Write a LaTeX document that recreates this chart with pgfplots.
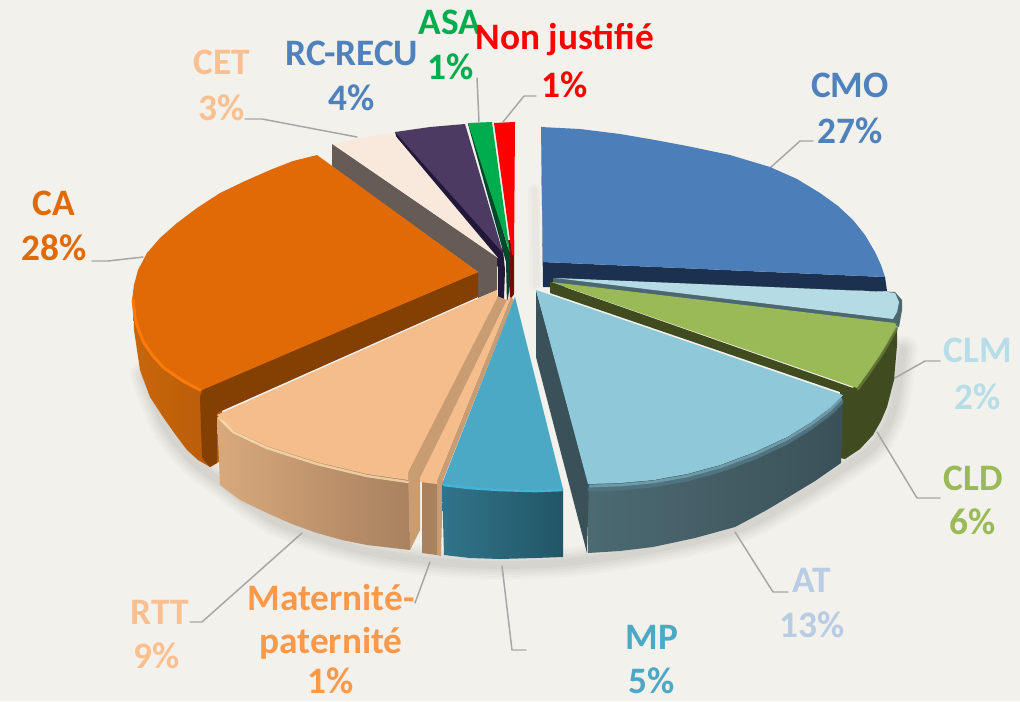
\documentclass[border=0pt]{standalone}
\usepackage{pgfplots}
\pgfplotsset{compat=1.18}
\usepackage{fontspec}
\setmainfont{Carlito}
\definecolor{bg}{HTML}{F2F1EC}
\definecolor{leader}{HTML}{A6A6A6}
\definecolor{HTMLdarkred}{HTML}{7A0A0A}
\definecolor{HTMLdarkgreen}{HTML}{03482A}
\definecolor{HTMLgreen}{HTML}{00AD4E}
\definecolor{HTMLdarkpurple}{HTML}{231839}
\definecolor{HTMLpurple}{HTML}{4D3A62}
\definecolor{HTMLcetside}{HTML}{665C55}
\definecolor{HTMLcet}{HTML}{F8E9DC}
\definecolor{HTMLcaa}{HTML}{C8660A}
\definecolor{HTMLcab}{HTML}{B85C08}
\definecolor{HTMLcadark}{HTML}{843F02}
\definecolor{HTMLca}{HTML}{E06A06}
\definecolor{HTMLcarim}{HTML}{FF7A0C}
\definecolor{HTMLcmodark}{HTML}{1C3150}
\definecolor{HTMLcmo}{HTML}{4C7EBA}
\definecolor{HTMLclmside}{HTML}{4D6770}
\definecolor{HTMLclm}{HTML}{B5DBE5}
\definecolor{HTMLclddark}{HTML}{414B20}
\definecolor{HTMLcld}{HTML}{9ABA58}
\definecolor{HTMLcldrim}{HTML}{6E8540}
\definecolor{HTMLata}{HTML}{4C6A72}
\definecolor{HTMLatb}{HTML}{3B5159}
\definecolor{HTMLattop}{HTML}{8FC9D9}
\definecolor{HTMLatrim}{HTML}{6E9AA8}
\definecolor{HTMLatrimb}{HTML}{4F7480}
\definecolor{HTMLrtta}{HTML}{D9A97C}
\definecolor{HTMLrttb}{HTML}{A8815F}
\definecolor{HTMLrttside}{HTML}{C99C72}
\definecolor{HTMLrtt}{HTML}{F5BD8B}
\definecolor{HTMLrttrim}{HTML}{FFE3B4}
\definecolor{HTMLmpa}{HTML}{31748A}
\definecolor{HTMLmpb}{HTML}{225666}
\definecolor{HTMLmp}{HTML}{4BA9C6}
\definecolor{HTMLmprim}{HTML}{45B4D4}
\definecolor{HTMLlcmo}{HTML}{4F81BD}
\definecolor{HTMLlclm}{HTML}{B7DEE8}
\definecolor{HTMLlat}{HTML}{B8CCE4}
\definecolor{HTMLlmat}{HTML}{FB994A}
\definecolor{HTMLlrtt}{HTML}{FAC090}
\pgfplotsset{
  poly/.style={no marks,draw=none,forget plot},
  rim/.style={no marks,forget plot,line cap=round,line join=round},
}
\newcommand{\lab}[4]{\node[font=\fontsize{28}{30}\selectfont\bfseries,text=#1,anchor=center,inner sep=0pt] at (axis cs:#2,#3) {#4};}
\pgfplotstableread{
x y
145 375
165 425
190 458
215 478
270 518
320 538
370 552
440 562
500 565
570 562
650 550
735 530
790 502
845 467
875 445
893 410
903 350
}\shadowline
\begin{document}
\begin{tikzpicture}
\begin{axis}[
  scale only axis,width=765pt,height=525.75pt,
  xmin=0,xmax=1020,ymin=0,ymax=701,y dir=reverse,
  ticks=none,axis line style={draw=none},
  axis background/.style={fill=bg},
]
% soft shadow
\addplot[rim,smooth,draw=black,opacity=.018,line width=22pt] table {\shadowline};
\addplot[rim,smooth,draw=black,opacity=.02,line width=18pt] table {\shadowline};
\addplot[rim,smooth,draw=black,opacity=.022,line width=14pt] table {\shadowline};
\addplot[rim,smooth,draw=black,opacity=.025,line width=10pt] table {\shadowline};
\addplot[rim,smooth,draw=black,opacity=.03,line width=6pt] table {\shadowline};
\addplot[rim,draw=black,opacity=.02,line width=9pt] coordinates {(534,190)(535,285)};
\addplot[rim,draw=black,opacity=.02,line width=5pt] coordinates {(535,190)(536,285)};
% leader lines
\addplot[rim,draw=leader,line width=1.1pt] coordinates {(770,168)(800,141)(813,141)};
\addplot[rim,draw=leader,line width=1.1pt] coordinates {(893,379)(925,361)(940,361)};
\addplot[rim,draw=leader,line width=1.1pt] coordinates {(877,432)(917,498)(940,498)};
\addplot[rim,draw=leader,line width=1.1pt] coordinates {(735,532)(773,592)(788,592)};
\addplot[rim,draw=leader,line width=1.1pt] coordinates {(502,566)(512,650)(526,650)};
\addplot[rim,draw=leader,line width=1.1pt] coordinates {(430,562)(415,603)};
\addplot[rim,draw=leader,line width=1.1pt] coordinates {(302,533)(202,622)(190,622)};
\addplot[rim,draw=leader,line width=1.1pt] coordinates {(143,257)(108,261)(92,261)};
\addplot[rim,draw=leader,line width=1.1pt] coordinates {(357,137)(262,119)(245,119)};
\addplot[rim,draw=leader,line width=1.1pt] coordinates {(479,122)(477,78)};
\addplot[rim,draw=leader,line width=1.1pt] coordinates {(503,122)(524,96)(536,96)};
% Non justifie
\addplot[poly,fill=HTMLdarkred] coordinates {(508,240)(514,240)(514,294)(510,300)} --cycle;
\addplot[poly,fill=red] coordinates {(494,123)(515,122)(514,255)(512,255)} --cycle;
% ASA
\addplot[poly,fill=HTMLdarkgreen] coordinates {(468,124)(472,124)(510,255)(510,285)(507,305)(506,262)} --cycle;
\addplot[poly,fill=HTMLgreen] coordinates {(468,123)(492,122)(510,253)} --cycle;
% RC-RECU
\addplot[poly,fill=HTMLdarkpurple] coordinates {(395,132)(404,134)(503,250)(505,270)(504,298)(498,312)(498,267)(398,143)} --cycle;
\addplot[poly,fill=HTMLpurple] coordinates {(395,132)(430,127)(465,124)(503,253)} --cycle;
% CET
\addplot[poly,fill=HTMLcetside] coordinates {(332,144)(497,257)(497,290)(478,298)(478,272)(332,167)} --cycle;
\addplot[poly,fill=HTMLcet] coordinates {(333,144)(360,138)(393,133)(498,258)} --cycle;
% CA
\addplot[poly,left color=HTMLcaa,right color=HTMLcab] coordinates {(133,295)(134,330)(140,370)(150,397)(163,417)(175,434)(187,450)(198,460)(210,467)(222,460)(222,385)} --cycle;
\addplot[poly,fill=HTMLcadark] coordinates {(478,272)(478,297)(217,413)(217,463)(210,467)(202,458)(200,397)(203,388)} --cycle;
\addplot[poly,fill=HTMLca] coordinates {(317,155)(293,161)(270,170)(245,181)(220,193)(197,208)(177,223)(160,238)(147,253)(138,270)(134,285)(132,300)(134,318)(138,330)(143,342)(152,355)(163,367)(182,380)(202,390)(478,272)} --cycle;
\addplot[rim,draw=HTMLcarim,line width=2.2pt] coordinates {(133,300)(135,318)(139,331)(144,343)(153,356)(164,368)(183,381)(200,390)};
% CMO
\addplot[poly,fill=HTMLcmodark] coordinates {(541,126)(543,262)(885,277)(887,291)(543,287)} --cycle;
\addplot[poly,fill=HTMLcmo] coordinates {(541,127)(580,129)(620,134)(655,140)(687,146)(730,155)(750,161)(770,167)(797,179)(820,193)(838,206)(853,220)(865,235)(875,252)(881,265)(885,277)(543,262)} --cycle;
% CLM
\addplot[poly,fill=HTMLclmside] coordinates {(553,278)(553,283)(893,325)(899,327)(902,310)(902,300)(895,292)} --cycle;
\addplot[poly,fill=HTMLclm] coordinates {(555,278)(887,292)(895,293)(899,302)(897,312)(893,319)} --cycle;
% CLD
\addplot[poly,fill=HTMLclddark] coordinates {(550,282)(550,293)(840,392)(840,458)(845,459)(860,449)(873,435)(881,421)(887,407)(894,380)(897,345)(897,327)(853,388)} --cycle;
\addplot[poly,fill=HTMLcld] coordinates {(551,282)(895,323)(897,327)(892,335)(887,344)(879,357)(870,370)(857,388)} --cycle;
\addplot[rim,draw=HTMLcldrim,line width=2pt,opacity=.7] coordinates {(897,328)(892,337)(887,346)(879,359)(870,372)(858,389)};
% AT
\addplot[poly,left color=HTMLata,right color=HTMLatb] coordinates {(588,483)(653,480)(720,465)(787,437)(830,408)(843,395)(841,463)(815,481)(787,498)(765,511)(735,527)(695,538)(653,547)(620,551)(588,553)} --cycle;
\addplot[poly,fill=HTMLatb] coordinates {(536,290)(536,357)(587,553)(589,483)} --cycle;
\addplot[poly,fill=HTMLattop] coordinates {(536,290)(843,395)(838,401)(830,408)(810,423)(787,437)(755,452)(720,465)(687,474)(653,480)(620,483)(588,484)} --cycle;
\addplot[rim,draw=HTMLatrimb,line width=3.6pt] coordinates {(590,489)(620,488)(653,485)(687,479)(720,470)(755,457)(787,442)(810,428)(830,413)(841,402)};
\addplot[rim,draw=HTMLatrim,line width=2pt] coordinates {(590,486)(620,485)(653,482)(687,476)(720,467)(755,454)(787,439)(810,425)(830,410)(841,399)};
% RTT
\addplot[poly,left color=HTMLrtta,right color=HTMLrttb] coordinates {(217,417)(220,485)(240,500)(267,513)(292,524)(317,533)(342,540)(367,545)(410,550)(409,478)(367,473)(317,461)(267,445)(233,430)} --cycle;
\addplot[poly,fill=HTMLrttside] coordinates {(497,296)(507,300)(420,480)(420,530)(410,550)(408,472)} --cycle;
\addplot[poly,fill=HTMLrtt] coordinates {(497,290)(497,298)(408,472)(408,480)(367,474)(317,462)(267,446)(233,430)(217,415)} --cycle;
\addplot[rim,draw=HTMLrttrim,opacity=.75,line width=1.8pt] coordinates {(219,418)(233,432)(267,448)(317,464)(367,476)(408,482)};
% Maternite
\addplot[poly,fill=HTMLrttb] coordinates {(422,482)(437,482)(437,555)(422,553)} --cycle;
\addplot[poly,fill=HTMLrttside] coordinates {(511,297)(514,300)(443,480)(441,556)(437,555)(437,480)} --cycle;
\addplot[poly,fill=HTMLrtt] coordinates {(507,300)(511,297)(437,480)(437,484)(420,482)(420,478)} --cycle;
% MP
\addplot[poly,left color=HTMLmpa,right color=HTMLmpb] coordinates {(442,485)(444,555)(470,558)(500,559)(535,558)(563,557)(563,489)} --cycle;
\addplot[poly,fill=HTMLmp] coordinates {(515,297)(563,489)(535,490)(500,489)(470,487)(442,484)} --cycle;
\addplot[rim,draw=HTMLmprim,line width=2pt] coordinates {(444,485)(470,488)(500,490)(535,491)(562,490)};
% labels
\lab{HTMLlcmo}{850}{85}{CMO}\lab{HTMLlcmo}{850}{131}{27\%}
\lab{HTMLlclm}{978}{350}{CLM}\lab{HTMLlclm}{978}{397}{2\%}
\lab{HTMLcld}{973}{478}{CLD}\lab{HTMLcld}{973}{522}{6\%}
\lab{HTMLlat}{812}{580}{AT}\lab{HTMLlat}{812}{625}{13\%}
\lab{HTMLmp}{652}{637}{MP}\lab{HTMLmp}{652}{681}{5\%}
\lab{HTMLlmat}{331}{598}{Maternité-}\lab{HTMLlmat}{331}{643}{paternité}\lab{HTMLlmat}{331}{681}{1\%}
\lab{HTMLlrtt}{160}{612}{RTT}\lab{HTMLlrtt}{157}{656}{9\%}
\lab{HTMLca}{54}{203}{CA}\lab{HTMLca}{54}{248}{28\%}
\lab{HTMLlrtt}{222}{62}{CET}\lab{HTMLlrtt}{222}{108}{3\%}
\lab{HTMLlcmo}{352}{53}{RC-RECU}\lab{HTMLlcmo}{352}{98}{4\%}
\lab{HTMLgreen}{450}{22}{ASA}\lab{HTMLgreen}{451}{67}{1\%}
\lab{red}{565}{40}{Non justifié}\lab{red}{565}{85}{1\%}
\end{axis}
\end{tikzpicture}
\end{document}
